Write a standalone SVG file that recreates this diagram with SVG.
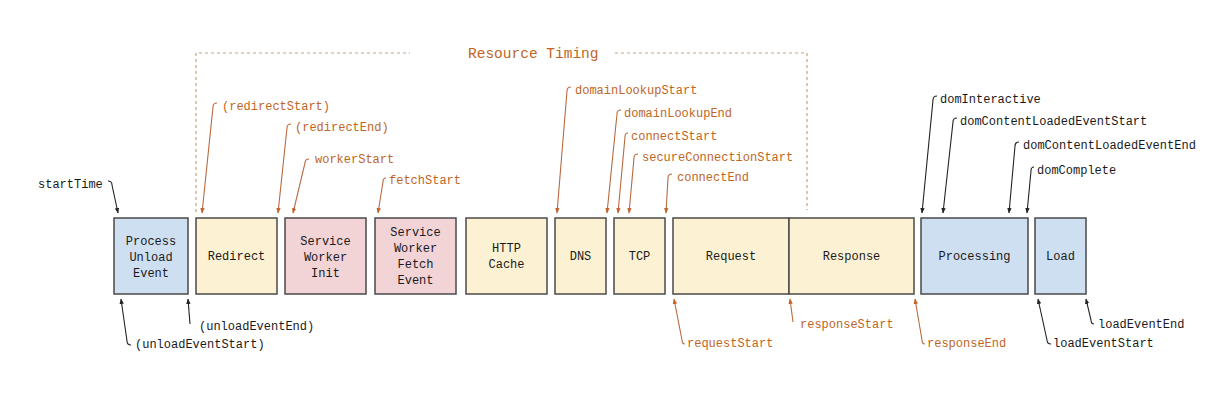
<svg xmlns="http://www.w3.org/2000/svg" width="1220" height="418" viewBox="0 0 1220 418">
<defs>
<marker id="ab" viewBox="0 0 10 10" refX="9" refY="5" markerWidth="5" markerHeight="5" orient="auto"><path d="M0,1 L10,5 L0,9 Z" fill="#222"/></marker>
<marker id="ao" viewBox="0 0 10 10" refX="9" refY="5" markerWidth="5" markerHeight="5" orient="auto"><path d="M0,1 L10,5 L0,9 Z" fill="#c0622a"/></marker>
<style>
.box{stroke:#4a4a4a;stroke-width:1.5}
.blue{fill:#cfdff2}
.yel{fill:#fdf1d3}
.pink{fill:#f2d3d6}
.t{font-family:"Liberation Mono","DejaVu Sans Mono",monospace;font-size:12px;fill:#1a1a1a}
.c{text-anchor:middle}
.o{fill:#c0651f}
.lb{fill:none;stroke:#222;stroke-width:1.1;marker-end:url(#ab)}
.lo{fill:none;stroke:#b86a40;stroke-width:1.1;marker-end:url(#ao)}
.dash{fill:none;stroke:#c9a27e;stroke-width:1.2;stroke-dasharray:3,3}
</style>
</defs>
<rect width="1220" height="418" fill="#ffffff"/>

<g id="resource-timing-bracket">
<path class="dash" d="M196,212 L196,53 L410,53"/>
<path class="dash" d="M615,53 L807,53 L807,210"/>
<text class="t o" x="468" y="58" style="font-size:14.5px">Resource Timing</text>
</g>

<g id="n-unload"><rect class="box blue" x="114" y="218" width="74" height="76"/>
<text class="t c" x="151" y="245">Process</text><text class="t c" x="151" y="261">Unload</text><text class="t c" x="151" y="277">Event</text></g>
<g id="n-redirect"><rect class="box yel" x="196" y="218" width="81" height="76"/>
<text class="t c" x="236.5" y="260">Redirect</text></g>
<g id="n-swinit"><rect class="box pink" x="285" y="218" width="81" height="76"/>
<text class="t c" x="325.5" y="245">Service</text><text class="t c" x="325.5" y="261">Worker</text><text class="t c" x="325.5" y="277">Init</text></g>
<g id="n-swfetch"><rect class="box pink" x="375" y="218" width="81" height="76"/>
<text class="t c" x="415.5" y="236">Service</text><text class="t c" x="415.5" y="252">Worker</text><text class="t c" x="415.5" y="268">Fetch</text><text class="t c" x="415.5" y="284">Event</text></g>
<g id="n-httpcache"><rect class="box yel" x="466" y="218" width="81" height="76"/>
<text class="t c" x="506.5" y="252">HTTP</text><text class="t c" x="506.5" y="268">Cache</text></g>
<g id="n-dns"><rect class="box yel" x="555" y="218" width="51" height="76"/>
<text class="t c" x="580.5" y="260">DNS</text></g>
<g id="n-tcp"><rect class="box yel" x="614" y="218" width="51" height="76"/>
<text class="t c" x="639.5" y="260">TCP</text></g>
<g id="n-request"><rect class="box yel" x="673" y="218" width="116" height="76"/>
<text class="t c" x="731" y="260">Request</text></g>
<g id="n-response"><rect class="box yel" x="789" y="218" width="125" height="76"/>
<text class="t c" x="851.5" y="260">Response</text></g>
<g id="n-processing"><rect class="box blue" x="921" y="218" width="107" height="76"/>
<text class="t c" x="974.5" y="260">Processing</text></g>
<g id="n-load"><rect class="box blue" x="1035" y="218" width="51" height="76"/>
<text class="t c" x="1060.5" y="260">Load</text></g>

<g id="labels">
<text class="t" x="38" y="188">startTime</text>
<text class="t o" x="222" y="110">(redirectStart)</text>
<text class="t o" x="295" y="131">(redirectEnd)</text>
<text class="t o" x="315" y="163">workerStart</text>
<text class="t o" x="389" y="184">fetchStart</text>
<text class="t o" x="575" y="94">domainLookupStart</text>
<text class="t o" x="624" y="117">domainLookupEnd</text>
<text class="t o" x="631" y="140">connectStart</text>
<text class="t o" x="642" y="161">secureConnectionStart</text>
<text class="t o" x="677" y="181">connectEnd</text>
<text class="t" x="940" y="103">domInteractive</text>
<text class="t" x="960" y="125">domContentLoadedEventStart</text>
<text class="t" x="1023" y="149">domContentLoadedEventEnd</text>
<text class="t" x="1037" y="174">domComplete</text>
<text class="t" x="199" y="330">(unloadEventEnd)</text>
<text class="t" x="135" y="348">(unloadEventStart)</text>
<text class="t o" x="687" y="347">requestStart</text>
<text class="t o" x="800" y="328">responseStart</text>
<text class="t o" x="927" y="347">responseEnd</text>
<text class="t" x="1053" y="347">loadEventStart</text>
<text class="t" x="1098" y="328">loadEventEnd</text>
</g>

<g id="connectors">
<path class="lb" d="M108,181 Q112,181 112,185 L118,213"/>
<path class="lo" d="M217,103 Q213,103 213,107 L202,213"/>
<path class="lo" d="M291,124 Q287,124 287,128 L278,213"/>
<path class="lo" d="M309,159 Q305,159 305,163 L293,213"/>
<path class="lo" d="M386,178 Q383,178 383,182 L378,213"/>
<path class="lo" d="M571,87 Q567,87 567,91 L557,213"/>
<path class="lo" d="M621,110 Q617,110 617,114 L607,213"/>
<path class="lo" d="M628,133 Q625,133 625,137 L618,213"/>
<path class="lo" d="M638,154 Q634,154 634,158 L629,213"/>
<path class="lo" d="M672,174 Q668,174 668,178 L666,213"/>
<path class="lb" d="M937,96 Q933,96 933,100 L922,213"/>
<path class="lb" d="M957,118 Q953,118 953,122 L943,213"/>
<path class="lb" d="M1019,142 Q1015,142 1015,146 L1009,213"/>
<path class="lb" d="M1034,167 Q1031,167 1031,171 L1027,213"/>
<path class="lb" d="M190,324 L188,299"/>
<path class="lb" d="M131,345 Q127,345 127,341 L121,299"/>
<path class="lo" d="M685,344 Q682,344 682,340 L674,299"/>
<path class="lo" d="M793,322 L790,299"/>
<path class="lo" d="M925,344 Q922,344 922,340 L915,299"/>
<path class="lb" d="M1051,344 Q1047,344 1047,340 L1038,299"/>
<path class="lb" d="M1094,324 Q1091,324 1091,320 L1086,299"/>
</g>
</svg>
